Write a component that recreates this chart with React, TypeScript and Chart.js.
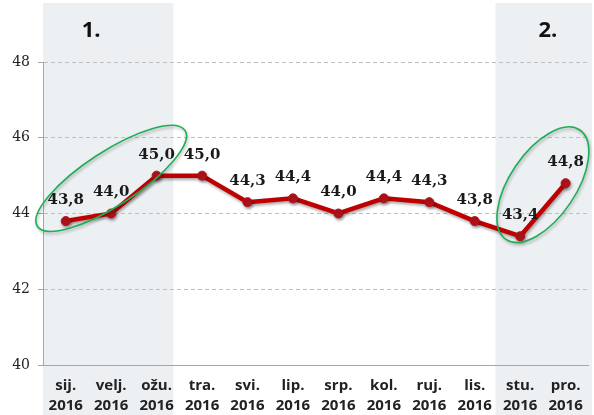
import React, { useEffect, useRef } from "react";
import { Chart, registerables } from "chart.js";

Chart.register(...registerables);

const months = ["sij.", "velj.", "ožu.", "tra.", "svi.", "lip.", "srp.", "kol.", "ruj.", "lis.", "stu.", "pro."];
const year = "2016";
const values = [43.8, 44.0, 45.0, 45.0, 44.3, 44.4, 44.0, 44.4, 44.3, 43.8, 43.4, 44.8];
const yMin = 40;
const yMax = 48;
const yStep = 2;
const shadedRanges: [number, number][] = [[0, 2], [10, 11]];
const groupLabels = ["1.", "2."];

const fmt = (v: number) => v.toFixed(1).replace(".", ",");

const bgPlugin = {
  id: "shade",
  beforeDraw(chart: any) {
    const { ctx, scales } = chart;
    const x = scales.x;
    const half = (x.getPixelForValue(1) - x.getPixelForValue(0)) / 2;
    ctx.save();
    ctx.fillStyle = "#EDF0F3";
    shadedRanges.forEach(([a, b], i) => {
      const l = i === 0 ? chart.chartArea.left : x.getPixelForValue(a) - half - 2;
      const r = i === 0 ? x.getPixelForValue(b) + half - 6 : chart.width - 2;
      ctx.fillRect(l, 3, r - l, chart.height - 3);
    });
    ctx.restore();
  },
};

const overlayPlugin = {
  id: "overlay",
  beforeDatasetsDraw(chart: any) {
    const ctx = chart.ctx;
    ctx.save();
    ctx.shadowColor = "rgba(0,0,0,0.35)";
    ctx.shadowBlur = 3;
    ctx.shadowOffsetX = 1;
    ctx.shadowOffsetY = 2;
  },
  afterDatasetsDraw(chart: any) {
    const { ctx, scales } = chart;
    ctx.restore();
    const meta = chart.getDatasetMeta(0);
    // value labels
    ctx.save();
    ctx.font = 'bold 15px "DejaVu Serif"';
    ctx.fillStyle = "#1a1a1a";
    ctx.textAlign = "center";
    ctx.textBaseline = "middle";
    meta.data.forEach((pt: any, i: number) => {
      ctx.fillText(fmt(values[i]), pt.x, pt.y - 21);
    });
    ctx.restore();

    // ellipses
    const ellipses = [
      { a: 0, b: 2, up: 20, rx: 88, ry: 27, rot: -33 },
      { a: 10, b: 11, up: 25, rx: 66, ry: 33, rot: -56 },
    ];
    ctx.save();
    ctx.strokeStyle = "#1DAF55";
    ctx.lineWidth = 1.6;
    ctx.shadowColor = "rgba(0,0,0,0.3)";
    ctx.shadowBlur = 3;
    ctx.shadowOffsetX = 1;
    ctx.shadowOffsetY = 2;
    ellipses.forEach((e) => {
      const p1 = meta.data[e.a];
      const p2 = meta.data[e.b];
      const cx = (p1.x + p2.x) / 2;
      const cy = (p1.y + p2.y) / 2 - e.up;
      ctx.beginPath();
      ctx.ellipse(cx, cy, e.rx, e.ry, (e.rot * Math.PI) / 180, 0, Math.PI * 2);
      ctx.stroke();
    });
    ctx.restore();

    // group labels
    const x = scales.x;
    ctx.save();
    ctx.font = 'bold 22px "Open Sans"';
    ctx.fillStyle = "#111";
    ctx.textAlign = "center";
    ctx.textBaseline = "middle";
    ctx.fillText(groupLabels[0], x.getPixelForValue(1) - 20, 31);
    ctx.fillText(groupLabels[1], (x.getPixelForValue(10) + x.getPixelForValue(11)) / 2 + 5, 31);
    ctx.restore();
  },
};

export default function App() {
  const ref = useRef<HTMLCanvasElement>(null);
  useEffect(() => {
    if (!ref.current) return;
    const chart = new Chart(ref.current, {
      type: "line",
      data: {
        labels: months.map((m) => [m, year]),
        datasets: [
          {
            data: values,
            borderColor: "#C00000",
            borderWidth: 4.5,
            pointRadius: 4.5,
            pointBackgroundColor: "#B3121B",
            pointBorderColor: "#B3121B",
            pointBorderWidth: 1,
            tension: 0,
          },
        ],
      },
      options: {
        animation: false,
        responsive: false,
        events: [],
        layout: { padding: { top: 62, right: 5, left: 0, bottom: 0 } },
        plugins: { legend: { display: false }, tooltip: { enabled: false } },
        scales: {
          x: {
            type: "category",
            offset: true,
            grid: { display: false, drawTicks: false },
            border: { display: true, color: "#A6A6A6", width: 1 },
            ticks: {
              padding: 11,
              color: "#222",
              maxRotation: 0,
              autoSkip: false,
              font: { family: "'Open Sans', sans-serif", weight: "bold", size: 15, lineHeight: 1.33 },
            },
            afterFit(scale: any) {
              scale.height = 50;
            },
          },
          y: {
            min: yMin,
            max: yMax,
            ticks: {
              stepSize: yStep,
              padding: 8,
              color: "#222",
              font: { family: "'DejaVu Serif', serif", size: 14 },
            },
            grid: {
              color: "#BFBFBF",
              tickLength: 5,
              tickColor: "#A6A6A6",
              tickBorderDash: [],
            },
            border: { display: true, color: "#A6A6A6", width: 1, dash: [4, 3] },
            afterFit(scale: any) {
              scale.width = 43;
            },
          },
        },
      } as any,
      plugins: [bgPlugin, overlayPlugin],
    });
    return () => chart.destroy();
  }, []);
  return (
    <div style={{ position: "absolute", left: 0, top: 0, width: 594, height: 415, background: "#fff" }}>
      <canvas ref={ref} width={594} height={415} style={{ display: "block" }} />
    </div>
  );
}
